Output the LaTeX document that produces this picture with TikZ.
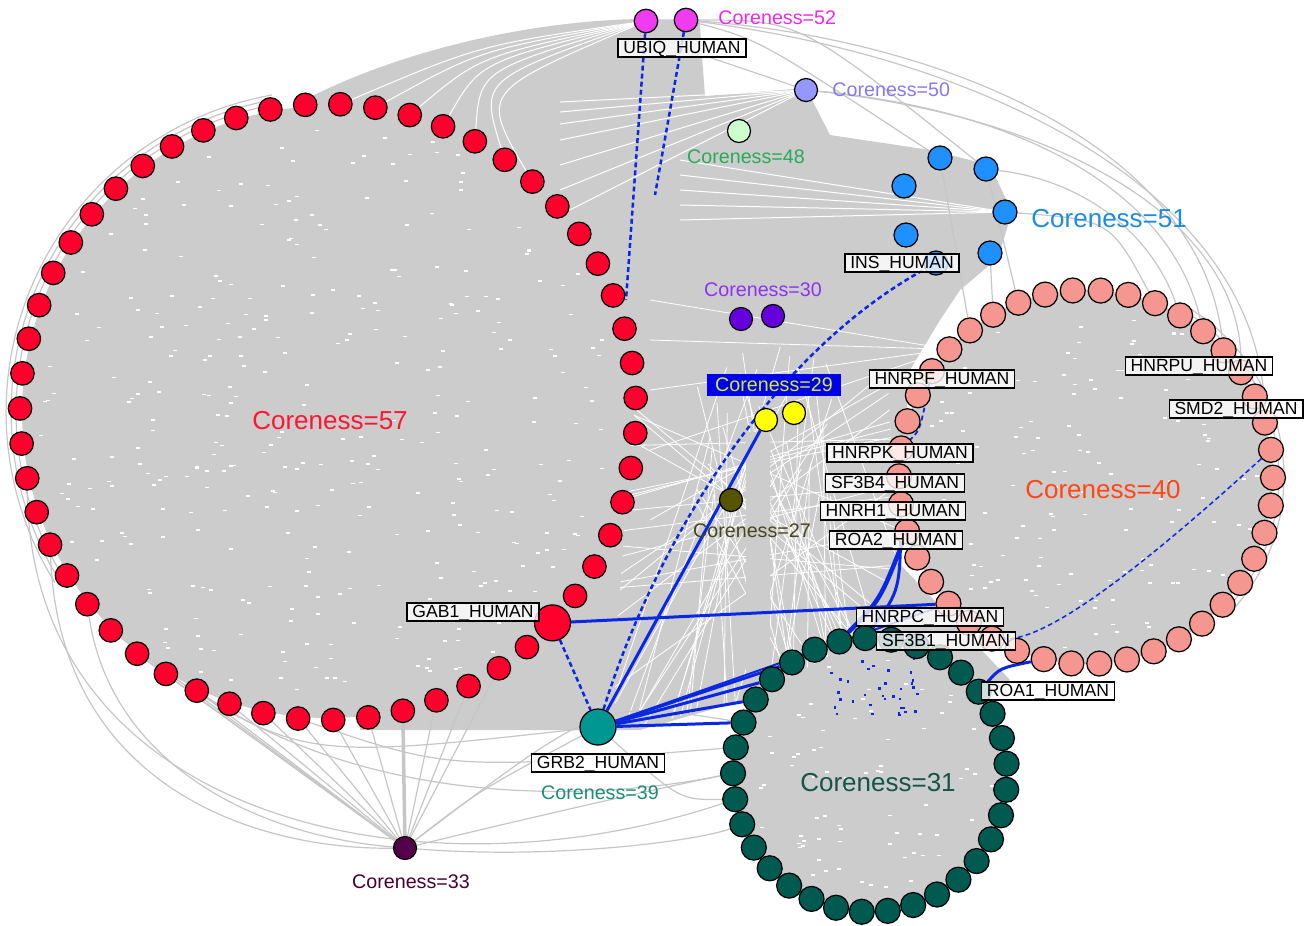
\documentclass[tikz,border=0pt]{standalone}
\usepackage{fontspec}
\setmainfont{Liberation Sans}
\usetikzlibrary{calc}

\definecolor{coregray}{RGB}{204,204,204}
\definecolor{edgegray}{RGB}{198,198,198}
\definecolor{hitblue}{RGB}{10,40,225}
% node colours
\definecolor{n57}{RGB}{255,0,45}
\definecolor{n52}{RGB}{240,60,240}
\definecolor{n50}{RGB}{150,150,255}
\definecolor{n48}{RGB}{204,255,204}
\definecolor{n51}{RGB}{30,144,255}
\definecolor{n40}{RGB}{245,150,145}
\definecolor{n31}{RGB}{0,90,80}
\definecolor{n30}{RGB}{102,0,221}
\definecolor{n29}{RGB}{255,255,0}
\definecolor{n27}{RGB}{85,85,0}
\definecolor{n39}{RGB}{0,150,145}
\definecolor{n33}{RGB}{85,0,75}
% label colours
\definecolor{t57}{RGB}{255,20,50}
\definecolor{t52}{RGB}{238,40,238}
\definecolor{t50}{RGB}{136,120,240}
\definecolor{t48}{RGB}{40,170,90}
\definecolor{t51}{RGB}{30,140,220}
\definecolor{t40}{RGB}{255,70,20}
\definecolor{t31}{RGB}{20,85,70}
\definecolor{t30}{RGB}{140,50,240}
\definecolor{t29}{RGB}{210,235,40}
\definecolor{b29}{RGB}{0,0,235}
\definecolor{t27}{RGB}{70,70,30}
\definecolor{t39}{RGB}{30,140,120}
\definecolor{t33}{RGB}{70,0,50}

\pgfdeclarelayer{bg}
\pgfdeclarelayer{edges}
\pgfsetlayers{bg,edges,main}

\begin{document}
\begin{tikzpicture}[x=0.1mm,y=-0.1mm,
	vert/.style={circle,draw=black,line width=0.35pt,minimum size=2.35mm,inner sep=0pt},
	hub/.style={vert,minimum size=3.6mm},
	prot/.style={draw=black,line width=0.4pt,fill=white,fill opacity=0.8,text opacity=1,
		font=\fontsize{5}{5}\selectfont,text height=3.6pt,text depth=0.5pt,inner xsep=1.5pt,inner ysep=0.5pt},
	corebig/.style={font=\fontsize{7.4}{8}\selectfont},
	coresmall/.style={font=\fontsize{5.6}{6}\selectfont},
	bgedge/.style={draw=edgegray,line width=0.12mm},
	hit/.style={draw=hitblue,line width=0.3mm},
	hitdot/.style={draw=hitblue,line width=0.25mm,dash pattern=on 1.4pt off 0.9pt}]
	\useasboundingbox (0,0) rectangle (1313,925);
	
	% Cores as rings
	\foreach \k in {0,...,19,21,22,...,54}
		\node[vert,fill=n57] (r\k) at ({328+308*cos(87.7-6.5455*\k)},{412-308*sin(87.7-6.5455*\k)}) {};
	\node[hub,fill=n57] (gab1) at ({328+308*cos(87.7-130.91)},{412-308*sin(87.7-130.91)}) {};
	\foreach \k in {0,...,41}
		\node[vert,fill=n40,minimum size=2.5mm] (p\k) at ({1086+187*cos(85.5-8.5714*\k)},{477-187*sin(85.5-8.5714*\k)}) {};
	\foreach \k in {0,...,32}
		\node[vert,fill=n31,minimum size=2.5mm] (t\k) at ({870+137*cos(92-10.909*\k)},{775-137*sin(92-10.909*\k)}) {};
	
	% Single cores
	\node[vert,fill=n52] (m1) at (646,21) {};
	\node[vert,fill=n52] (m2) at (686,20) {};
	\node[vert,fill=n50,minimum size=2.3mm] (c50) at (806,90) {};
	\node[vert,fill=n48,minimum size=2.3mm] (c48) at (739,131) {};
	\node[vert,fill=n51,minimum size=2.4mm] (b1) at (940,158) {};
	\node[vert,fill=n51,minimum size=2.4mm] (b2) at (986,169) {};
	\node[vert,fill=n51,minimum size=2.4mm] (b3) at (904,186) {};
	\node[vert,fill=n51,minimum size=2.4mm] (b4) at (1005,212) {};
	\node[vert,fill=n51,minimum size=2.4mm] (b5) at (906,235) {};
	\node[vert,fill=n51,minimum size=2.4mm] (b6) at (990,253) {};
	\node[vert,fill=n51,minimum size=2.4mm] (b7) at (936,263) {};
	\node[vert,fill=n30,minimum size=2.3mm] (v1) at (741,319) {};
	\node[vert,fill=n30,minimum size=2.3mm] (v2) at (773,316) {};
	\node[vert,fill=n29,minimum size=2.3mm] (y1) at (766,420) {};
	\node[vert,fill=n29,minimum size=2.3mm] (y2) at (794,413) {};
	\node[vert,fill=n27,minimum size=2.3mm] (c27) at (731,500) {};
	\node[hub,fill=n39] (grb2) at (598,727) {};
	\node[vert,fill=n33,minimum size=2.3mm] (c33) at (405,848) {};
	
	% Bezeichnungen
	\node[corebig,text=t57] (l57) at (330,421) {Coreness=57};
	\node[coresmall,text=t52,anchor=west] (l52) at (706,18) {Coreness=52};
	\node[coresmall,text=t50,anchor=west] (l50) at (820,90) {Coreness=50};
	\node[coresmall,text=t48] (l48) at (746,157) {Coreness=48};
	\node[corebig,text=t51,anchor=west] (l51) at (1019,219) {Coreness=51};
	\node[coresmall,text=t30] (l30) at (763,290) {Coreness=30};
	\node[coresmall,text=t29,fill=b29,inner xsep=2.3pt,inner ysep=1.1pt] (l29) at (774,385) {Coreness=29};
	\node[coresmall,text=t27] (l27) at (752,531) {Coreness=27};
	\node[corebig,text=t40] (l40) at (1103,490) {Coreness=40};
	\node[corebig,text=t31] (l31) at (878,783) {Coreness=31};
	\node[coresmall,text=t39] (l39) at (600,793) {Coreness=39};
	\node[coresmall,text=t33] (l33) at (411,882) {Coreness=33};
	
	% Proteine
	\node[prot] (ubiq) at (682,48) {UBIQ\_HUMAN};
	\node[prot] (ins) at (902,263) {INS\_HUMAN};
	\node[prot] (hnrpf) at (942,379) {HNRPF\_HUMAN};
	\node[prot] (hnrpu) at (1199,366) {HNRPU\_HUMAN};
	\node[prot] (smd2) at (1236,409) {SMD2\_HUMAN};
	\node[prot] (hnrpk) at (900,453) {HNRPK\_HUMAN};
	\node[prot] (sf3b4) at (895,483) {SF3B4\_HUMAN};
	\node[prot] (hnrh1) at (893,511) {HNRH1\_HUMAN};
	\node[prot] (roa2) at (896,540) {ROA2\_HUMAN};
	\node[prot] (hnrpc) at (930,617) {HNRPC\_HUMAN};
	\node[prot] (sf3b1) at (946,641) {SF3B1\_HUMAN};
	\node[prot] (roa1) at (1048,691) {ROA1\_HUMAN};
	\node[prot] (gab1l) at (473,612) {GAB1\_HUMAN};
	\node[prot] (grb2l) at (598,763) {GRB2\_HUMAN};
	
	\coordinate (u1) at (626,300);
	\coordinate (u2) at (655,195);
	
	% Flaechen
	\begin{pgfonlayer}{bg}
		\fill[coregray] (328,412) circle[radius=30.6mm];
		\fill[coregray] (300,102) .. controls (420,40) and (560,19) .. (646,19) -- (700,20) -- (702,96) -- (560,200) -- cycle;
		\fill[coregray] (600,40) -- (700,30) -- (705,96) -- (806,88) -- (830,135) -- (930,150) -- (990,165) -- (1012,212) -- (998,258) -- (960,290) -- (940,320) -- (910,370) -- (896,560) -- (1010,680) -- (985,705) -- (860,640) -- (745,700) -- (640,730) -- (360,730) -- (330,412) -- cycle;
		\fill[coregray] (1086,477) circle[radius=18.7mm];
		\fill[coregray] (870,775) circle[radius=13.7mm];
		% Streifen
		\foreach \k/\c in {0/45,1/50,2/56,3/62,4/70,5/80,6/92}
			\draw[white,line width=0.1mm] (r\k) .. controls (480,\c) .. (m1);
		\foreach \c in {102,112,124,140,165,190,215}
			\draw[white,line width=0.1mm] (560,\c) -- (c50);
		\foreach \c in {160,175,190,205,220}
			\draw[white,line width=0.1mm] (680,\c) -- (b4);
		\foreach \c in {300,340,390,450,520}
			\draw[white,line width=0.08mm] (650,\c) -- (p36);
		% Punkte
		\pgfmathsetseed{7}
		\foreach \i in {1,...,330}{
			\pgfmathsetmacro\aa{360*rnd}
			\pgfmathsetmacro\rr{290*sqrt(rnd)}
			\fill[white] ({328+\rr*cos(\aa)},{412+\rr*sin(\aa)}) rectangle ++(4,1.6);
		}
		\foreach \i in {1,...,130}{
			\pgfmathsetmacro\aa{360*rnd}
			\pgfmathsetmacro\rr{172*sqrt(rnd)}
			\fill[white] ({1086+\rr*cos(\aa)},{477+\rr*sin(\aa)}) rectangle ++(4,1.6);
		}
		\foreach \i in {1,...,70}{
			\pgfmathsetmacro\aa{360*rnd}
			\pgfmathsetmacro\rr{122*sqrt(rnd)}
			\fill[white] ({870+\rr*cos(\aa)},{775+\rr*sin(\aa)}) rectangle ++(4,1.6);
		}
		% Netz in der Mitte
		\begin{scope}
			\clip (640,360) -- (885,330) -- (898,560) -- (860,640) -- (745,700) -- (640,726) -- (612,700) -- (630,450) -- cycle;
			\foreach \i in {1,...,45}
				\draw[white,line width=0.08mm] ({690+150*rnd},{340+160*rnd}) -- ({600+360*rnd},730);
			\foreach \i in {1,...,18}
				\draw[white,line width=0.08mm] (615,{380+330*rnd}) -- (900,{340+300*rnd});
		\end{scope}
		\fill[coregray] (746,432) rectangle (770,716);
		\fill[coregray] (590,640) rectangle (606,712);
	\end{pgfonlayer}
	
	% Kanten
	\begin{pgfonlayer}{edges}
		\foreach \rr in {312,317,322}
			\draw[bgedge] plot[domain=100:212,samples=40] ({328+\rr*cos(\x)},{412-\rr*sin(\x)});
		\foreach \rr in {193,198}
			\draw[bgedge] plot[domain=-45:62,samples=30] ({1086+\rr*cos(\x)},{477-\rr*sin(\x)});
		\foreach \k in {22,23,24,26,27,28,29,30,31,32,33,34}
			\draw[bgedge] (r\k) -- (c33);
		\draw[edgegray,line width=0.35mm] (r25) -- (c33);
		\draw[bgedge] (r35) .. controls (110,760) and (250,835) .. (c33);
		\draw[bgedge] (r37) .. controls (60,790) and (260,850) .. (c33);
		\draw[bgedge] (r39) .. controls (30,820) and (420,905) .. (t24);
		\draw[bgedge] (c33) .. controls (520,820) and (650,790) .. (t25);
		\draw[bgedge] (c33) .. controls (560,860) and (700,840) .. (t23);
		\draw[bgedge] (c33) .. controls (480,790) .. (grb2);
		\draw[bgedge] (c33) .. controls (600,700) .. (t27);
		\draw[bgedge] (r28) .. controls (450,770) .. (t26);
		\draw[bgedge] (r31) .. controls (380,810) and (600,800) .. (t25);
		\draw[bgedge] (r33) .. controls (300,760) .. (grb2);
		\draw[bgedge] (grb2) .. controls (680,800) .. (t24);
		\draw[bgedge] (c50) .. controls (1020,110) and (1170,190) .. (p4);
		\draw[bgedge] (c50) .. controls (1080,120) and (1240,230) .. (p6);
		\draw[bgedge] (m2) .. controls (950,40) and (1200,150) .. (p5);
		\draw[bgedge] (m2) .. controls (1000,60) and (1260,200) .. (p8);
		\draw[bgedge] (b2) .. controls (1080,180) and (1150,230) .. (p3);
		\draw[bgedge] (b4) .. controls (1110,220) .. (p2);
		\draw[bgedge] (b6) -- (p38);
		\draw[bgedge] (b2) -- (p39);
		\draw[bgedge] (b1) -- (p37);
		\draw[bgedge] (m2) .. controls (760,40) .. (b1);
		\draw[bgedge] (m2) .. controls (800,20) .. (b2);
		\draw[bgedge] (ubiq) -- (c50);
		
		% blaue Kanten
		\draw[hit] (grb2) -- (y1);
		\draw[hitdot] (grb2) .. controls (650,560) and (760,360) .. (b7);
		\draw[hit] (gab1) -- (p26);
		\draw[hit,line width=0.2mm] (grb2) -- (p26);
		\foreach \k in {27,28,29,30}
			\draw[hit] (grb2) -- (t\k);
		\draw[hit,line width=0.45mm] (t32) .. controls (880,600) .. (p29);
		\draw[hit] (t0) .. controls (900,590) .. (p30);
		\draw[hitdot,line width=0.18mm] (p35) .. controls (920,430) .. (p32);
		\draw[hit] (t5) .. controls (1000,668) .. (p22);
		\draw[hitdot] (m1) -- (u1);
		\draw[hitdot] (m2) -- (u2);
		\draw[hitdot] (gab1) -- (grb2);
		\draw[hitdot,line width=0.15mm] (p9) .. controls (1150,560) and (1050,640) .. (p24);
		\pgfmathsetseed{3}
		\foreach \i in {1,...,35}
			\fill[hitblue] ({830+90*rnd},{655+60*rnd}) rectangle ++(2.5,2.5);
	\end{pgfonlayer}
\end{tikzpicture}
\end{document}
